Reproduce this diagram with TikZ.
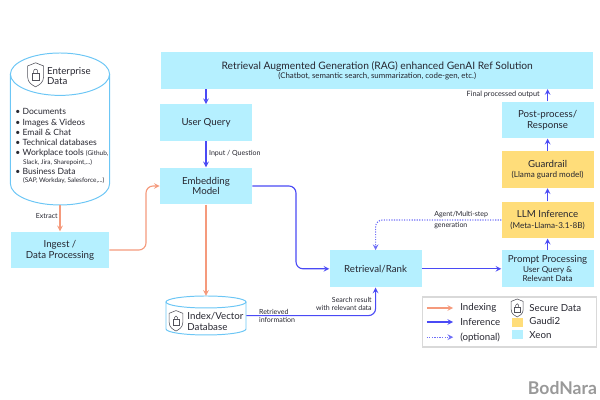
\documentclass[tikz,border=0pt]{standalone}
\usepackage{fontspec}
\setmainfont{Lato}
\usepackage{xcolor}
\usetikzlibrary{arrows, shapes.geometric, positioning}

\definecolor{xeoncol}{HTML}{B5F0FF}
\definecolor{gaudicol}{HTML}{FFDD7A}
\definecolor{infercol}{HTML}{4A4AF5}
\definecolor{indexcol}{HTML}{F59A7C}
\definecolor{cylcol}{HTML}{6CC6F5}
\definecolor{textcol}{HTML}{262630}

\tikzset{
    every node/.style={text=textcol, font=\fontsize{6.9}{7.6}\selectfont},
    xeonbox/.style={fill=xeoncol, minimum width=2.3cm, minimum height=0.92cm, align=center, inner sep=0pt},
    gaudibox/.style={xeonbox, fill=gaudicol},
    datacyl/.style={inner sep=0pt},
    cylline/.style={draw=cylcol, line width=0.7pt},
    small/.style={font=\fontsize{5}{6.3}\selectfont, align=left, inner sep=0pt},
    infer/.style={->, >=stealth, infercol, line width=0.8pt, rounded corners=5pt},
    indexing/.style={->, >=stealth, indexcol, line width=0.8pt, rounded corners=5pt},
    optional/.style={infer, densely dotted, infercol!80},
    shieldicon/.pic={
        \draw[textcol!80, line width=0.4pt] (-0.2,0.22) -- (0,0.3) -- (0.2,0.22) -- (0.2,-0.05) .. controls (0.2,-0.2) and (0.08,-0.26) .. (0,-0.3) .. controls (-0.08,-0.26) and (-0.2,-0.2) .. (-0.2,-0.05) -- cycle;
        \draw[textcol!80, line width=0.4pt] (-0.09,-0.13) rectangle (0.09,0.03);
        \draw[textcol!80, line width=0.4pt] (-0.05,0.03) -- (-0.05,0.09) arc (180:0:0.05) -- (0.05,0.03);
    }
}

\begin{document}
\begin{tikzpicture}
    \useasboundingbox (0,0) rectangle (15,10);
    \node[xeonbox, minimum width=10.8cm] (rag) at (9.43, 8.24) {\fontsize{7.3}{9.5}\selectfont Retrieval Augmented Generation (RAG) enhanced GenAI Ref Solution\\[-1pt] {\fontsize{5.6}{6.6}\selectfont (Chatbot, semantic search, summarization, code-gen, etc.)}};
    \node[xeonbox] (query) at (5.15, 6.93) {User Query};
    \node[xeonbox] (embed) at (5.15, 5.35) {Embedding\\Model};
    \node[xeonbox] (post) at (13.69, 7.0) {Post-process/\\Response};
    \node[gaudibox] (guard) at (13.69, 5.76) {Guardrail\\{\fontsize{5.8}{7}\selectfont (Llama guard model)}};
    \node[gaudibox] (llm) at (13.69, 4.5) {LLM Inference\\{\fontsize{5.8}{7}\selectfont (Meta-Llama-3.1-8B)}};
    \node[xeonbox] (prompt) at (13.69, 3.28) {Prompt Processing\\[-0.5pt]{\fontsize{5.8}{7}\selectfont User Query \&}\\[-1pt]{\fontsize{5.8}{7}\selectfont Relevant Data}};
    \node[xeonbox] (retr) at (9.39, 3.28) {Retrieval/Rank};
    \node[xeonbox, minimum width=2.45cm] (ingest) at (1.5, 3.75) {Ingest /\\Data Processing};

    % cylinders
    \node[datacyl, minimum width=2.48cm, minimum height=3.8cm] (entdata) at (1.5, 6.775) {};
    \node[datacyl, minimum width=2cm, minimum height=0.975cm] (index) at (5.15, 2.11) {};
    \draw[cylline] (1.5, 8.145) ellipse (1.24 and 0.53);
    \draw[cylline] (0.26, 8.145) -- (0.26, 5.405) arc (180:360:1.24 and 0.53) -- (2.74, 8.145);
    \draw[cylline] (5.15, 2.45) ellipse (1 and 0.15);
    \draw[cylline] (4.15, 2.45) -- (4.15, 1.775) arc (180:360:1 and 0.15) -- (6.15, 2.45);

    % cylinder texts
    \pic at (0.89, 8.13) {shieldicon};
    \node[align=left, inner sep=0pt, anchor=west] (enttext) at (1.17, 8.1) {Enterprise\\Data};
    \node[align=left, inner sep=0pt, anchor=north west, font=\fontsize{6.1}{7.3}\selectfont] (entlist) at (0.38, 7.29) {\textbullet~Documents\\\textbullet~Images \& Videos\\\textbullet~Email \& Chat\\\textbullet~Technical databases\\\textbullet~Workplace tools {\fontsize{4.6}{5}\selectfont (Github,}\\[-1.5pt]\hspace{5.5pt}{\fontsize{4.6}{5}\selectfont Slack, Jira, Sharepoint,...)}\\\textbullet~Business Data\\[-1.5pt]\hspace{5.5pt}{\fontsize{4.6}{5}\selectfont (SAP, Workday, Salesforce,...)}};
    \pic[scale=0.85] at (4.4, 1.98) {shieldicon};
    \node[align=left, inner sep=0pt, anchor=west] (indextext) at (4.68, 1.97) {Index/Vector\\Database};

    % connectors
    \coordinate (ragq) at (rag.south -| query.north);
    \coordinate (ragp) at (rag.south -| post.north);
    \coordinate (embedturn) at (7.4, 4);
    \coordinate (ingestturn) at (3.65, 4.6);
    \draw[infer] (ragq) -- (query);
    \draw[infer] (query) -- (embed);
    \draw[infer] (embed.east) -| (embedturn) |- (retr.west);
    \draw[infer] (retr) -- (prompt);
    \draw[infer] (prompt) -- (llm);
    \draw[infer] (llm) -- (guard);
    \draw[infer] (guard) -- (post);
    \draw[infer] (post) -- (ragp);
    \draw[infer] (index.east) -| (retr.south);
    \draw[optional] (llm.west) -| (retr.north);
    \draw[indexing] (entdata.south) -- (ingest.north);
    \draw[indexing] (ingest.east) -| (ingestturn) |- (embed.west);
    \draw[indexing] (embed.south) -- (index.north);

    % connector labels
    \node[small, anchor=west] (lblinput) at (5.22, 6.15) {Input / Question};
    \node[small, anchor=east, font=\fontsize{5.2}{6.3}\selectfont] (lblfinal) at (13.5, 7.63) {Final processed output};
    \node[small, anchor=east] (lblextract) at (1.45, 4.6) {Extract};
    \node[small, anchor=west] (lblagent) at (10.85, 4.5) {Agent/Multi-step\\[1.2pt]generation};
    \node[small, anchor=west] (lblretrieved) at (6.47, 2.1) {Retrieved\\information};
    \node[small, anchor=east, align=right] (lblsearch) at (9.3, 2.4) {Search result\\with relevant data};

    % legend
    \node[draw=black!15, thick, minimum width=4.35cm, minimum height=1.25cm] (legend) at (12.73, 1.95) {};
    \coordinate (idxa) at (10.67, 2.3);
    \coordinate (idxb) at (11.33, 2.3);
    \coordinate (infa) at (10.67, 1.95);
    \coordinate (infb) at (11.33, 1.95);
    \coordinate (opta) at (10.67, 1.57);
    \coordinate (optb) at (11.33, 1.57);
    \draw[indexing] (idxa) -- (idxb);
    \draw[infer] (infa) -- (infb);
    \draw[optional] (opta) -- (optb);
    \node[anchor=west, inner sep=0pt] (lgindex) at (11.5, 2.3) {Indexing};
    \node[anchor=west, inner sep=0pt] (lginfer) at (11.5, 1.95) {Inference};
    \node[anchor=west, inner sep=0pt] (lgopt) at (11.5, 1.57) {(optional)};
    \pic[scale=0.75] at (12.93, 2.3) {shieldicon};
    \node[anchor=west, inner sep=0pt] (lgsecure) at (13.23, 2.3) {Secure Data};
    \node[fill=gaudicol, minimum width=0.28cm, minimum height=0.24cm, inner sep=0pt] (lggaudi) at (12.93, 1.94) {};
    \node[fill=xeoncol, minimum width=0.28cm, minimum height=0.24cm, inner sep=0pt] (lgxeon) at (12.93, 1.64) {};
    \node[anchor=west, inner sep=0pt] (lggaudit) at (13.23, 1.97) {Gaudi2};
    \node[anchor=west, inner sep=0pt] (lgxeont) at (13.23, 1.63) {Xeon};

    % watermark
    \node[anchor=east, inner sep=0pt, text=black!40, font=\bfseries\fontsize{12.5}{13}\selectfont] (mark) at (14.93, 0.3) {BodNara};
\end{tikzpicture}
\end{document}
